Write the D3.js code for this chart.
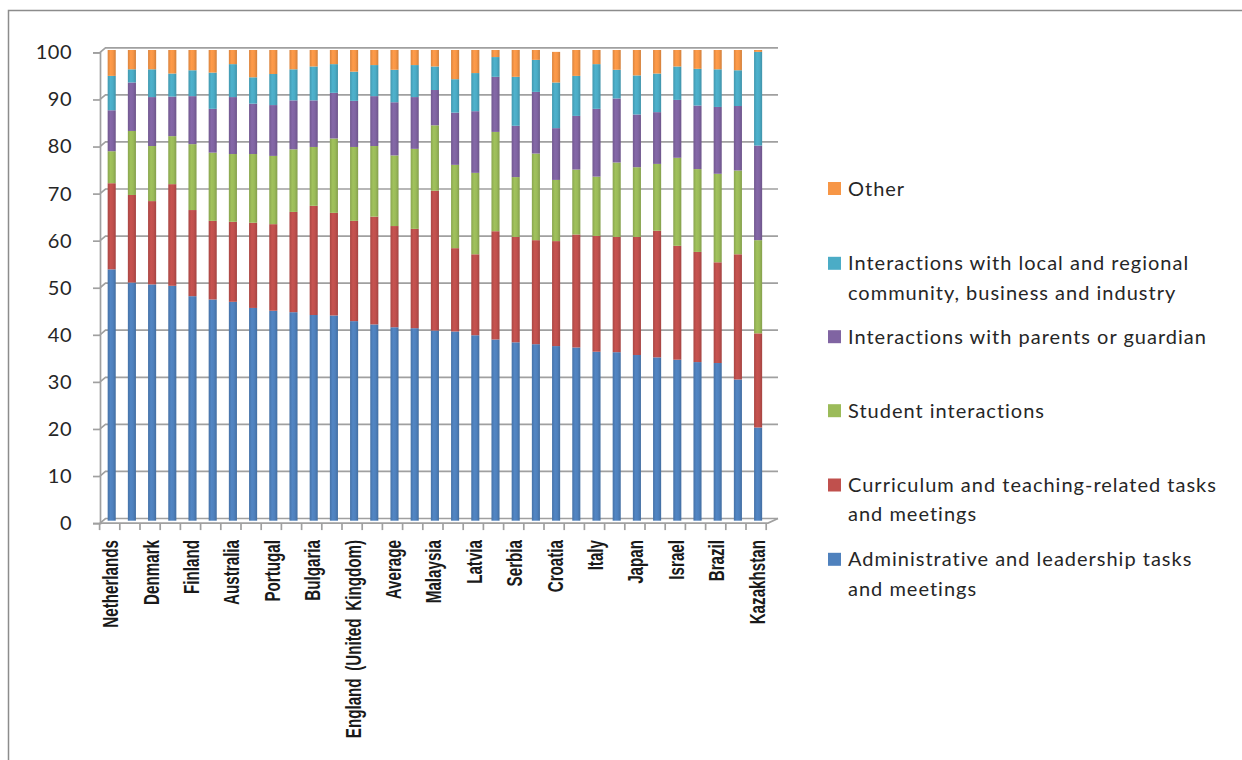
<!DOCTYPE html>
<html>
<head>
<meta charset="utf-8">
<script src="https://cdn.jsdelivr.net/npm/d3@7"></script>
<style>
  html, body { margin: 0; padding: 0; background: #fff; }
  svg { display: block; }
</style>
</head>
<body>
<svg id="chart" width="1242" height="760"></svg>
<script>
// ---------- DATA ----------
const categories = [
  "Netherlands", "Sweden", "Denmark", "Norway", "Finland", "Estonia", "Australia", "New Zealand",
  "Portugal", "Spain", "Bulgaria", "Slovenia", "England (United Kingdom)", "Belgium", "Average", "Chile",
  "Malaysia", "Lithuania", "Latvia", "Czech Republic", "Serbia", "Romania", "Croatia", "Mexico",
  "Italy", "Korea", "Japan", "Singapore", "Israel", "Poland", "Brazil", "Turkey", "Kazakhstan"
];
const adminLeadership = [53.4,50.6,50.2,49.9,47.7,47.0,46.5,45.2,44.6,44.3,43.7,43.6,42.4,41.7,41.1,40.9,40.4,40.2,39.4,38.5,37.9,37.5,37.1,36.8,35.9,35.8,35.2,34.7,34.2,33.7,33.5,30.0,19.8];
const curriculumTeaching = [18.3,18.6,17.7,21.6,18.3,16.7,17.0,18.1,18.4,21.3,23.2,21.8,21.3,22.9,21.5,21.1,29.7,17.7,17.2,23.0,22.4,22.1,22.3,24.0,24.6,24.5,25.1,26.9,24.2,23.4,21.4,26.6,20.0];
const studentInteractions = [6.8,13.6,11.7,10.2,14.0,14.5,14.4,14.6,14.5,13.3,12.5,15.8,15.7,15.0,15.0,17.0,13.9,17.7,17.3,21.1,12.7,18.4,13.0,13.8,12.6,15.8,14.8,14.2,18.7,17.6,18.8,17.8,19.8];
const parentsInteractions = [8.7,10.3,10.4,8.4,10.2,9.3,12.1,10.7,10.8,10.4,9.9,9.7,9.8,10.6,11.3,11.0,7.5,11.1,13.1,11.7,10.9,13.1,11.0,11.4,14.4,13.6,11.2,11.0,12.3,13.5,14.2,13.7,20.1];
const communityInteractions = [7.3,2.8,5.9,4.9,5.5,7.7,7.0,5.6,6.6,6.6,7.2,6.1,6.2,6.6,6.9,6.8,5.0,7.1,8.1,4.2,10.4,6.8,9.7,8.5,9.5,6.1,8.3,8.2,7.1,7.8,8.0,7.6,19.9];
const otherTasks = [5.5,4.1,4.1,5.0,4.3,4.8,3.0,5.8,5.1,4.1,3.5,3.0,4.6,3.2,4.2,3.2,3.5,6.2,4.9,1.5,5.7,2.1,6.5,5.5,3.0,4.2,5.4,5.0,3.5,4.0,4.1,4.3,0.4];
const yTicks = [0,10,20,30,40,50,60,70,80,90,100];

const seriesKeys = ["admin","curriculum","student","parents","community","other"];
const seriesLabels = {
  admin: ["Administrative and leadership tasks", "and meetings"],
  curriculum: ["Curriculum and teaching-related tasks", "and meetings"],
  student: ["Student interactions"],
  parents: ["Interactions with parents or guardian"],
  community: ["Interactions with local and regional", "community, business and industry"],
  other: ["Other"]
};
const seriesColors = {
  admin: "#4F81BD", curriculum: "#C0504D", student: "#9BBB59",
  parents: "#8064A2", community: "#4BACC6", other: "#F79646"
};

const table = categories.map((c, i) => ({
  category: c,
  admin: adminLeadership[i],
  curriculum: curriculumTeaching[i],
  student: studentInteractions[i],
  parents: parentsInteractions[i],
  community: communityInteractions[i],
  other: otherTasks[i]
}));

// ---------- CHART ----------
const svg = d3.select("#chart");

// outer chart border
svg.append("rect")
  .attr("x", 8.5).attr("y", 10.5).attr("width", 1260).attr("height", 780)
  .attr("fill", "none").attr("stroke", "#8c8c8c").attr("stroke-width", 1.5);

const x = d3.scaleBand().domain(categories).range([101.6, 768.2])
  .paddingInner(0.6).paddingOuter(0.3);
const y = d3.scaleLinear().domain([0, 100]).range([520.7, 50]);

const axisX = 100, backX = 105.5, backRight = 778, backDy = -2.2, frontDy = 2.4;

// gradients for bars
const defs = svg.append("defs");
seriesKeys.forEach(k => {
  const base = d3.color(seriesColors[k]);
  const g = defs.append("linearGradient").attr("id", "g-" + k)
    .attr("x1", "0%").attr("x2", "100%").attr("y1", "0%").attr("y2", "0%");
  g.append("stop").attr("offset", "0%").attr("stop-color", base.darker(0.35));
  g.append("stop").attr("offset", "35%").attr("stop-color", base.brighter(0.1));
  g.append("stop").attr("offset", "65%").attr("stop-color", base);
  g.append("stop").attr("offset", "100%").attr("stop-color", base.darker(0.45));
});

// back-wall gridlines with 3D connectors
const grid = svg.append("g").attr("stroke", "#a0a0a0").attr("stroke-width", 1.7).attr("fill", "none");
yTicks.forEach(v => {
  grid.append("path")
    .attr("d", `M${axisX},${y(v) + frontDy} L${backX},${y(v) + backDy} L${backRight},${y(v) + backDy}`);
});

// floor front edge + right diagonal
grid.append("path")
  .attr("d", `M${axisX},${y(0) + frontDy} L${backRight - 10},${y(0) + frontDy} L${backRight},${y(0) + backDy}`);

// y axis
const yAxis = d3.axisLeft(y).tickValues(yTicks).tickSize(7).tickPadding(21);
const gy = svg.append("g").attr("transform", `translate(${axisX},${frontDy})`).call(yAxis);
gy.select(".domain").attr("stroke", "#a0a0a0").attr("stroke-width", 1.7);
gy.selectAll(".tick line").attr("stroke", "#a0a0a0").attr("stroke-width", 1.7);
gy.selectAll(".tick text")
  .attr("fill", "#262626")
  .style("font-family", "Lato, 'Open Sans', sans-serif")
  .style("font-size", "20px")
  .style("letter-spacing", "0.5px");

// category boundary ticks
const step = x.step();
const boundaries = d3.range(categories.length + 1).map(i => x(categories[0]) - x.paddingOuter() * step + i * step);
svg.append("g").selectAll("line").data(boundaries).join("line")
  .attr("x1", d => d - 2).attr("x2", d => d - 2)
  .attr("y1", y(0) + frontDy).attr("y2", y(0) + frontDy + 7)
  .attr("stroke", "#a0a0a0").attr("stroke-width", 1.7);

// stacked bars
const stacked = d3.stack().keys(seriesKeys)(table);
svg.append("g").selectAll("g").data(stacked).join("g")
  .attr("fill", d => `url(#g-${d.key})`)
  .selectAll("rect").data(d => d).join("rect")
  .attr("x", d => x(d.data.category))
  .attr("width", x.bandwidth())
  .attr("y", d => y(d[1]))
  .attr("height", d => y(d[0]) - y(d[1]));

// x axis labels (every other category)
const xAxis = d3.axisBottom(x)
  .tickValues(categories.filter((d, i) => i % 2 === 0))
  .tickSize(0).tickPadding(0);
const gx = svg.append("g").attr("transform", `translate(-1.5,${540})`).call(xAxis);
gx.select(".domain").remove();
gx.selectAll(".tick text")
  .attr("transform", "rotate(-90) scale(0.69,1)")
  .attr("text-anchor", "end")
  .attr("x", 0).attr("y", 0).attr("dy", "0.36em")
  .attr("fill", "#1a1a1a")
  .style("font-family", "'Liberation Sans', Arial, sans-serif")
  .style("font-weight", "bold")
  .style("font-size", "22px")
  .style("word-spacing", "5px");

// legend
const legendOrder = ["other","community","parents","student","curriculum","admin"];
const legendY = [188.5, 263.3, 336.7, 410.7, 485, 559.3];
const lg = svg.append("g").attr("transform", "translate(828,0)");
legendOrder.forEach((k, i) => {
  const row = lg.append("g").attr("transform", `translate(0,${legendY[i]})`);
  row.append("rect").attr("x", 0).attr("y", -6.5).attr("width", 13).attr("height", 13)
    .attr("fill", seriesColors[k]);
  seriesLabels[k].forEach((line, j) => {
    row.append("text")
      .attr("x", 20).attr("y", j * 29.3).attr("dy", "0.35em")
      .attr("fill", "#262626")
      .style("font-family", "Lato, 'Open Sans', sans-serif")
      .style("font-size", "20px")
      .style("letter-spacing", "1px")
      .text(line);
  });
});
</script>
</body>
</html>
